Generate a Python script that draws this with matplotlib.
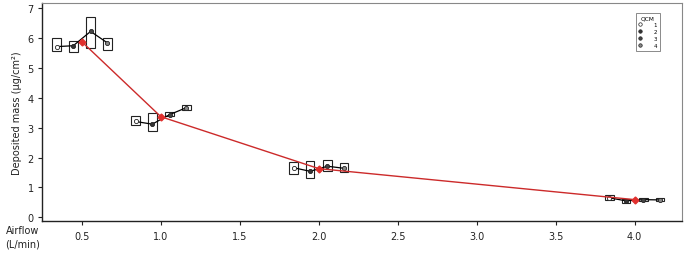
import matplotlib
matplotlib.use("Agg")
import matplotlib.pyplot as plt
from matplotlib.lines import Line2D
import numpy as np

plt.rcParams['font.family'] = ['DejaVu Sans']

airflow = [0.5, 1.0, 2.0, 4.0]
qcm_labels = ['1', '2', '3', '4']
offsets = [-0.16, -0.055, 0.055, 0.16]

# medians per group (rows: airflow), columns: QCM 1..4
qcm_mid = [
    [5.72, 5.75, 6.23, 5.85],
    [3.21, 3.12, 3.44, 3.67],
    [1.66, 1.54, 1.71, 1.64],
    [0.65, 0.55, 0.59, 0.58],
]
qcm_low = [
    [5.58, 5.53, 5.69, 5.62],
    [3.09, 2.90, 3.38, 3.60],
    [1.46, 1.30, 1.55, 1.50],
    [0.57, 0.48, 0.55, 0.54],
]
qcm_high = [
    [6.02, 5.92, 6.73, 6.00],
    [3.40, 3.49, 3.52, 3.75],
    [1.84, 1.89, 1.93, 1.82],
    [0.75, 0.62, 0.64, 0.63],
]
group_mean = [5.88, 3.37, 1.63, 0.59]

marker_faces = ['white', '#333333', '#444444', '#888888']

fig = plt.figure(figsize=(6.85, 2.55), dpi=100)
ax = fig.add_axes([0.0613, 0.129, 0.9343, 0.855])

for gi, a in enumerate(airflow):
    xs = [a + o for o in offsets]
    ax.plot(xs, qcm_mid[gi], color='black', lw=0.9, zorder=3)
    for qi in range(4):
        ax.bar(xs[qi], qcm_high[gi][qi] - qcm_low[gi][qi], bottom=qcm_low[gi][qi],
               width=0.055, fill=False, edgecolor='#222222', linewidth=0.8, zorder=2)
        ax.plot(xs[qi], qcm_mid[gi][qi], 'o', ms=3, mfc=marker_faces[qi],
                mec='#222222', mew=0.6, zorder=4)

ax.plot(airflow, group_mean, color='#cc2a2a', lw=1.0, zorder=5)
ax.plot(airflow, group_mean, 'D', color='#e0302e', ms=3.5, zorder=6)

ax.set_xlim(0.247, 4.30)
ax.set_ylim(-0.13, 7.18)
ax.set_xticks([0.5, 1.0, 1.5, 2.0, 2.5, 3.0, 3.5, 4.0])
ax.set_xticklabels(['0.5', '1.0', '1.5', '2.0', '2.5', '3.0', '3.5', '4.0'])
ax.set_yticks(range(0, 8))
ax.tick_params(labelsize=7, length=3, width=0.8, colors='#222222', pad=3)
ax.tick_params(axis='x', pad=4)
for s in ['top', 'right']:
    ax.spines[s].set_color('#888888')
    ax.spines[s].set_linewidth(0.8)
for s in ['left', 'bottom']:
    ax.spines[s].set_color('#222222')
    ax.spines[s].set_linewidth(1.0)

ax.set_ylabel('Deposited mass (µg/cm²)', fontsize=7, color='#222222', labelpad=4)
fig.text(0.033, 0.115, 'Airflow\n(L/min)', fontsize=7, color='#222222', ha='center', va='top',
         linespacing=1.5)

handles = [Line2D([], [], ls='none', marker='o', ms=2.5, mfc=marker_faces[i], mec='#222222', mew=0.5)
           for i in range(4)]
leg = ax.legend(handles, qcm_labels, title='QCM', loc='upper right', bbox_to_anchor=(0.965, 0.955),
                fontsize=4, title_fontsize=4.2, frameon=True, fancybox=False,
                markerfirst=True, handlelength=0.6, handletextpad=2.2, labelspacing=0.35,
                borderpad=0.45, borderaxespad=0)
leg.get_frame().set_edgecolor('#555555')
leg.get_frame().set_linewidth(0.6)

fig.savefig('out.png', dpi=100)
